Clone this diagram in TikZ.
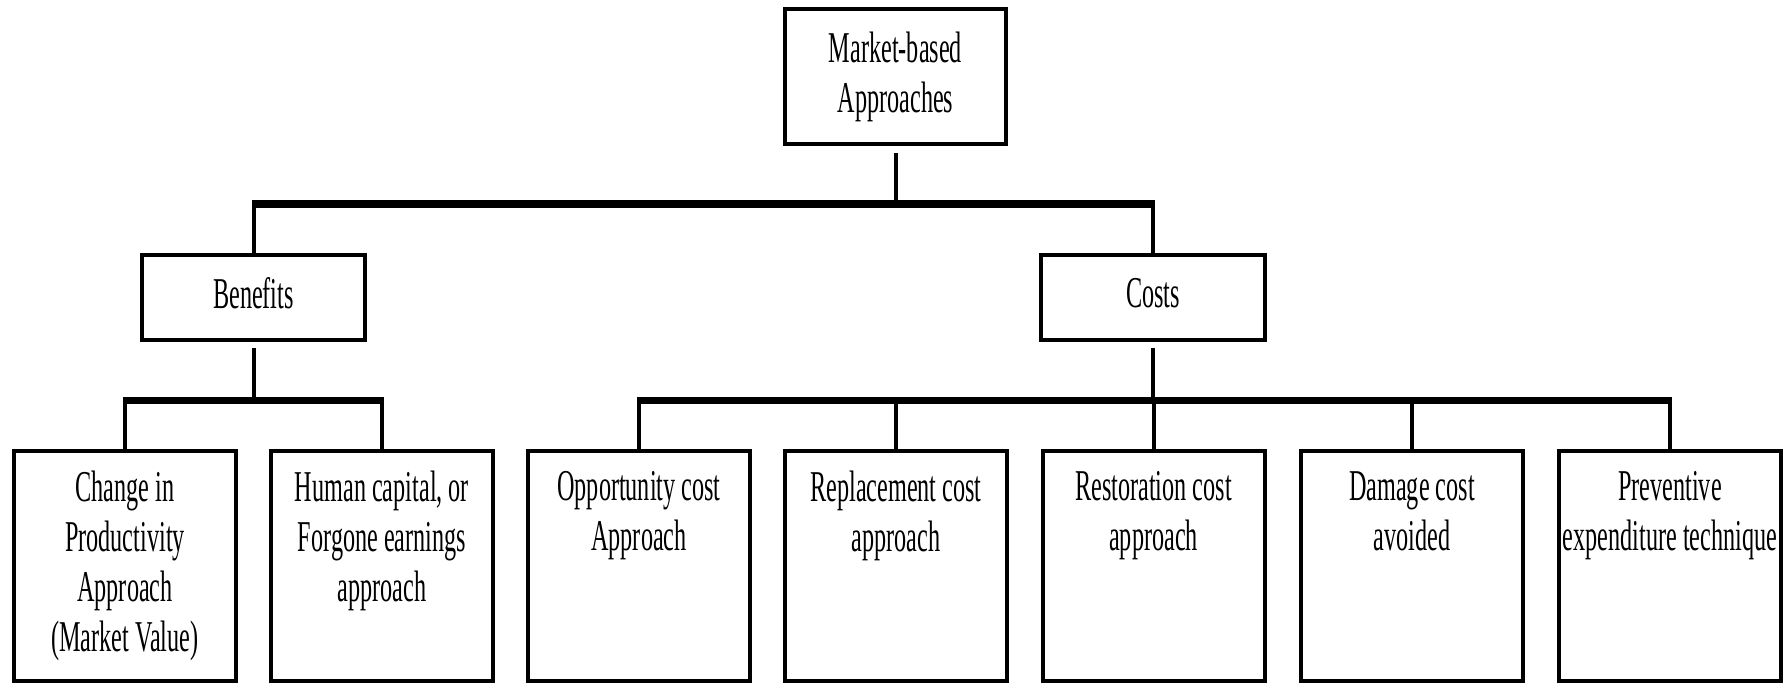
\documentclass[tikz,border=0pt]{standalone}
\usepackage{fontspec}
\setmainfont{Liberation Serif}[FakeStretch=0.55]
\begin{document}
\begin{tikzpicture}[x=0.5pt,y=-0.5pt,
  txt/.style={font=\fontsize{22}{25}\selectfont,align=center,inner sep=0pt},
  box/.style={txt,draw,line width=2pt,rectangle},
  leaf/.style={box,minimum width=111pt,minimum height=115pt},
  link/.style={line width=2pt},
  bus/.style={line width=3.75pt}]
\useasboundingbox (0,0) rectangle (1785,684);
% boxes
\node[box,minimum width=110.5pt,minimum height=67.5pt] (top) at (895.5,76.5) {Market-based\\Approaches};
\node[box,minimum width=111.5pt,minimum height=42.5pt] (ben) at (253.5,297.5) {\raisebox{4.7pt}{Benefits}};
\node[box,minimum width=112pt,minimum height=42.5pt] (cost) at (1153,297.5) {\raisebox{4.7pt}{Costs}};
\node[leaf] (l1) at (125,566) {};
\node[leaf] (l2) at (382,566) {};
\node[leaf] (l3) at (639,566) {};
\node[leaf] (l4) at (896,566) {};
\node[leaf] (l5) at (1153.5,566) {};
\node[leaf] (l6) at (1412,566) {};
\node[leaf] (l7) at (1670,566) {};
% texts
\node[txt,anchor=north] (t1) at ([yshift=-11pt]l1.north) {Change in\\Productivity\\Approach\\(Market Value)};
\node[txt,anchor=north] (t2) at ([yshift=-11pt]l2.north) {Human capital, or\\Forgone earnings\\approach};
\node[txt,anchor=north] (t3) at ([yshift=-11pt]l3.north) {Opportunity cost\\Approach};
\node[txt,anchor=north] (t4) at ([yshift=-11pt]l4.north) {Replacement cost\\approach};
\node[txt,anchor=north] (t5) at ([yshift=-11pt]l5.north) {Restoration cost\\approach};
\node[txt,anchor=north] (t6) at ([yshift=-11pt]l6.north) {Damage cost\\avoided};
\node[txt,anchor=north] (t7) at ([yshift=-11pt]l7.north) {Preventive\\expenditure technique};
% bus coordinates
\coordinate (tb) at (897,204);
\coordinate (bb) at (253,400.5);
\coordinate (cb) at (1153,400.5);
% top level
\draw[link] ([yshift=-3.5pt]top.south) -- (top.south |- tb);
\draw[bus] ([xshift=-1pt]ben.north |- tb) -- ([xshift=1pt]cost.north |- tb);
\draw[link] (ben.north |- tb) -- (ben.north);
\draw[link] (cost.north |- tb) -- (cost.north);
% benefits
\draw[link] ([yshift=-3pt]ben.south) -- (ben.south |- bb);
\draw[bus] ([xshift=-1pt]l1.north |- bb) -- ([xshift=1pt]l2.north |- bb);
\foreach \n in {l1,l2} \draw[link] (\n.north |- bb) -- (\n.north);
% costs
\draw[link] ([yshift=-3pt]cost.south) -- (cost.south |- cb);
\draw[bus] ([xshift=-1pt]l3.north |- cb) -- ([xshift=1pt]l7.north |- cb);
\foreach \n in {l3,l4,l5,l6,l7} \draw[link] (\n.north |- cb) -- (\n.north);
\end{tikzpicture}
\end{document}
